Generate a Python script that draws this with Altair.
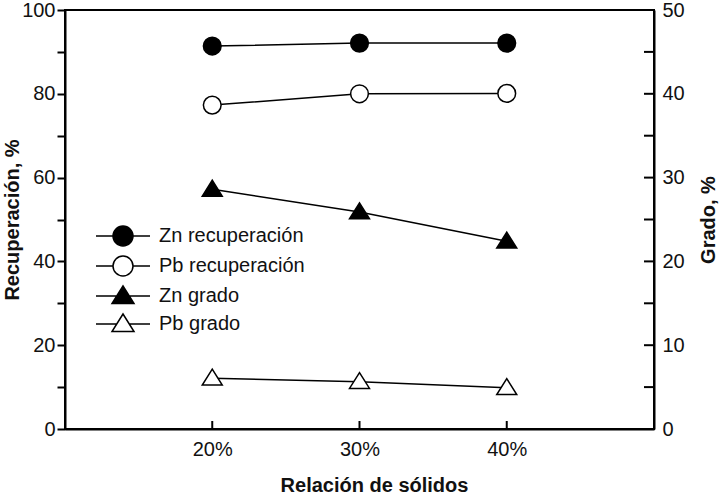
import altair as alt
import pandas as pd

# ---- data ----
solidos = [20, 30, 40]
zn_recuperacion = [91.4, 92.1, 92.1]
pb_recuperacion = [77.3, 80.0, 80.1]
zn_grado = [28.6, 25.9, 22.4]
pb_grado = [6.05, 5.65, 4.93]

series = ["Zn recuperación", "Pb recuperación", "Zn grado", "Pb grado"]
x_ticks = [20, 30, 40]
rec_ticks = [0, 10, 20, 30, 40, 50, 60, 70, 80, 90, 100]
grado_ticks = [0, 10, 20, 30, 40, 50]
grado_minor = [5, 10, 15, 20, 25, 30, 35, 40, 45]


def long(names, arrays):
    rows = []
    for n, arr in zip(names, arrays):
        for x, v in zip(solidos, arr):
            rows.append({"serie": n, "solidos": x, "valor": v})
    return pd.DataFrame(rows)


df_rec = long(series[:2], [zn_recuperacion, pb_recuperacion])
df_gra = long(series[2:], [zn_grado, pb_grado])
df_all = pd.concat([df_rec, df_gra], ignore_index=True)
df_xt = pd.DataFrame({"t": x_ticks})
df_yt = pd.DataFrame({"t": grado_minor})

W, H = 589, 419
FONT = "Liberation Sans"
TXT = "#111111"

circle = ("M1,0 C1,0.5523 0.5523,1 0,1 C-0.5523,1 -1,0.5523 -1,0 "
          "C-1,-0.5523 -0.5523,-1 0,-1 C0.5523,-1 1,-0.5523 1,0 Z")
tri = "M0,-1 L1.1,0.75 L-1.1,0.75 Z"
leg_circle = "M-2.7,0 L-1,0 M1,0 L2.7,0 " + circle
leg_tri = "M-2.7,0 L-0.63,0 M0.63,0 L2.7,0 " + tri

fill_cond = alt.condition("indexof(datum.serie, 'Zn') == 0",
                          alt.value("black"), alt.value("white"))


def xs():
    return alt.Scale(domain=[10, 50], nice=False, zero=False)


# ---- recuperación layer (left axis, bottom axis) ----
bottom_axis = alt.Axis(
    orient="bottom", values=x_ticks, labelExpr="datum.value + '%'",
    ticks=False, tickSize=0, labelPadding=10, labelFlush=False,
    labelFont=FONT, labelFontSize=20, labelColor=TXT,
    domainColor="black", domainWidth=2, grid=False,
    title="Relación de sólidos", titleFont=FONT, titleFontSize=20,
    titleFontWeight="bold", titleColor=TXT,
    titleX=309, titleY=62, titleBaseline="alphabetic", titleAlign="center",
)
left_axis = alt.Axis(
    orient="left", values=rec_ticks,
    labelExpr="datum.value % 20 == 0 ? datum.label : ''",
    tickSize=8, tickWidth=2, tickColor="black", labelPadding=2,
    labelOverlap=False, labelFlush=False,
    labelFont=FONT, labelFontSize=20, labelColor=TXT,
    domainColor="black", domainWidth=2, grid=False,
    title="Recuperación, %", titleFont=FONT, titleFontSize=20,
    titleFontWeight="bold", titleColor=TXT, titleAngle=270,
    titleX=-53, titleY=H / 2, titleBaseline="middle", titleAlign="center",
)

rec_base = alt.Chart(df_rec).encode(
    x=alt.X("solidos:Q", scale=xs(), axis=bottom_axis),
    y=alt.Y("valor:Q", scale=alt.Scale(domain=[0, 100], nice=False), axis=left_axis),
    detail="serie:N",
)
rec_line = rec_base.mark_line(color="black", strokeWidth=1.5)
rec_pts = rec_base.mark_point(
    shape="circle", size=314, filled=True, stroke="black", strokeWidth=1.5, opacity=1
).encode(fill=fill_cond)
rec_layer = alt.layer(rec_line, rec_pts)

# ---- grado layer (right axis) ----
right_axis = alt.Axis(
    orient="right", values=grado_ticks, ticks=False, tickSize=0, labelPadding=8,
    labelOverlap=False, labelFlush=False,
    labelFont=FONT, labelFontSize=20, labelColor=TXT,
    domainColor="black", domainWidth=2, grid=False,
    title="Grado, %", titleFont=FONT, titleFontSize=20,
    titleFontWeight="bold", titleColor=TXT, titleAngle=270,
    titleX=54, titleY=H / 2, titleBaseline="middle", titleAlign="center",
)
gra_base = alt.Chart(df_gra).encode(
    x=alt.X("solidos:Q", scale=xs(), axis=None),
    y=alt.Y("valor:Q", scale=alt.Scale(domain=[0, 50], nice=False), axis=right_axis),
    detail="serie:N",
)
gra_line = gra_base.mark_line(color="black", strokeWidth=1.5)
gra_pts = gra_base.mark_point(
    shape=tri, size=330, filled=True, stroke="black", strokeWidth=1.5, opacity=1
).encode(fill=fill_cond)
gra_layer = alt.layer(gra_line, gra_pts)

# ---- inward tick marks on the bottom and right axes ----
x_inner_ticks = alt.Chart(df_xt).mark_rule(color="black", strokeWidth=2).encode(
    x=alt.X("t:Q", scale=xs(), axis=None),
    y=alt.value(H), y2=alt.value(H - 8),
)
y_inner_ticks = alt.Chart(df_yt).mark_rule(color="black", strokeWidth=2).encode(
    y=alt.Y("t:Q", scale=alt.Scale(domain=[0, 50], nice=False), axis=None),
    x=alt.value(W - 10), x2=alt.value(W),
)

# ---- legend (invisible marks, visible legend) ----
leg = alt.Legend(
    orient="none", legendX=47, legendY=215, title=None, padding=0,
    symbolSize=400, symbolStrokeWidth=1.5, symbolStrokeColor="black",
    symbolOpacity=1, labelFont=FONT, labelFontSize=20, labelColor=TXT,
    labelOffset=25, rowPadding=4, labelLimit=400,
)
leg_layer = alt.Chart(df_all).mark_point(
    opacity=0, filled=True, size=400, strokeWidth=1.5, clip=True
).encode(
    x=alt.X("solidos:Q", scale=xs(), axis=None),
    y=alt.Y("valor:Q", scale=alt.Scale(domain=[0, 100], nice=False), axis=None),
    shape=alt.Shape("serie:N", scale=alt.Scale(domain=series,
                    range=[leg_circle, leg_circle, leg_tri, leg_tri]), legend=leg),
    fill=alt.Fill("serie:N", scale=alt.Scale(domain=series,
                  range=["black", "white", "black", "white"]), legend=leg),
    stroke=alt.Stroke("serie:N", scale=alt.Scale(domain=series,
                      range=["black", "black", "black", "black"]), legend=leg),
)

chart = alt.layer(
    rec_layer, gra_layer, x_inner_ticks, y_inner_ticks, leg_layer
).resolve_scale(
    x="independent", y="independent"
).properties(
    width=W, height=H,
    padding={"left": 65, "top": 10, "right": 74, "bottom": 73},
    autosize=alt.AutoSizeParams(type="none"),
    background="white",
).configure_view(
    stroke="black", strokeWidth=2
)

chart.save("out.html", embed_options={"renderer": "svg", "actions": False})
